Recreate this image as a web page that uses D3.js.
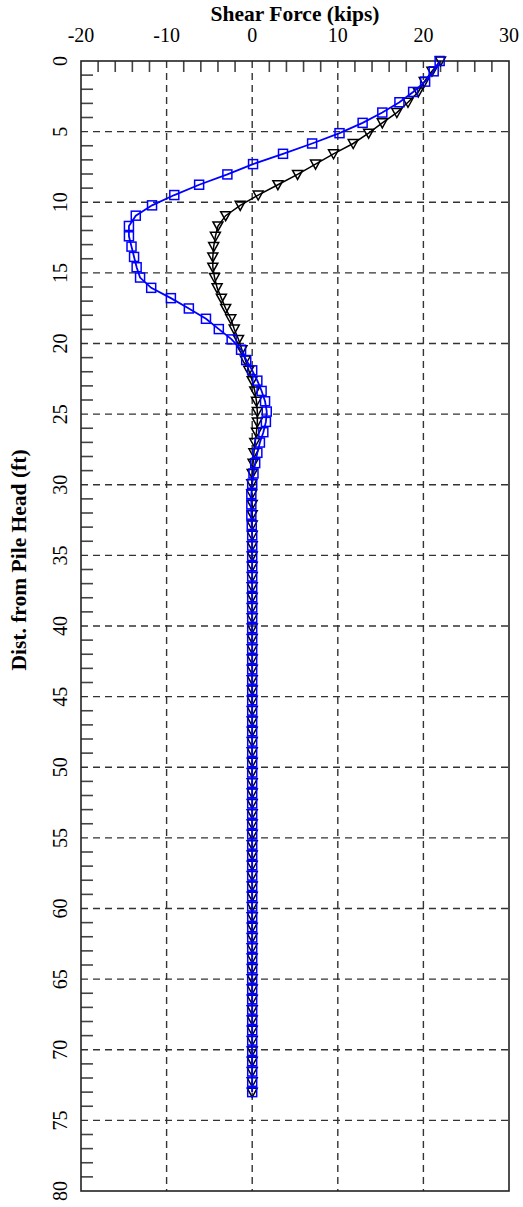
<!DOCTYPE html>
<html><head><meta charset="utf-8">
<script src="https://cdn.jsdelivr.net/npm/d3@7"></script>
<style>body{margin:0;background:#fff}svg{display:block}text{font-family:"Liberation Serif","Times New Roman",Times,serif}</style>
</head><body>
<svg id="c" width="523" height="1207"></svg>
<script>
const depths = [0,0.73,1.46,2.19,2.92,3.65,4.38,5.11,5.84,6.57,7.3,8.03,8.76,9.49,10.22,10.95,11.68,12.41,13.14,13.87,14.6,15.33,16.06,16.79,17.52,18.25,18.98,19.71,20.44,21.17,21.9,22.63,23.36,24.09,24.82,25.55,26.28,27.01,27.74,28.47,29.2,29.93,30.66,31.39,32.12,32.85,33.58,34.31,35.04,35.77,36.5,37.23,37.96,38.69,39.42,40.15,40.88,41.61,42.34,43.07,43.8,44.53,45.26,45.99,46.72,47.45,48.18,48.91,49.64,50.37,51.1,51.83,52.56,53.29,54.02,54.75,55.48,56.21,56.94,57.67,58.4,59.13,59.86,60.59,61.32,62.05,62.78,63.51,64.24,64.97,65.7,66.43,67.16,67.89,68.62,69.35,70.08,70.81,71.54,72.27,73.0];
const shearBlue = [21.9,21.2,20.2,18.8,17.2,15.2,12.9,10.2,7.0,3.6,
  0.1,-2.9,-6.2,-9.1,-11.7,-13.6,-14.4,-14.4,-14.1,-13.8,
  -13.5,-13.1,-11.8,-9.5,-7.4,-5.4,-3.9,-2.4,-1.3,-0.7,
  0.0,0.6,1.1,1.5,1.7,1.6,1.3,0.9,0.6,0.35,
  0.15,0.0,-0.1,-0.1,-0.1,-0.05,0,0,0,0,
  0,0,0,0,0,0,0,0,0,0,
  0,0,0,0,0,0,0,0,0,0,
  0,0,0,0,0,0,0,0,0,0,
  0,0,0,0,0,0,0,0,0,0,
  0,0,0,0,0,0,0,0,0,0,0];
const shearBlack = [22.0,21.0,20.1,19.4,18.2,16.9,15.2,13.6,11.8,9.5,
  7.4,5.3,3.0,0.7,-1.4,-3.1,-4.0,-4.3,-4.5,-4.6,
  -4.6,-4.4,-4.1,-3.6,-3.1,-2.5,-2.1,-1.6,-1.2,-0.8,
  -0.4,0.0,0.3,0.5,0.6,0.6,0.5,0.3,0.2,0.1,
  0.0,-0.05,-0.05,0,0,0,0,0,0,0,
  0,0,0,0,0,0,0,0,0,0,
  0,0,0,0,0,0,0,0,0,0,
  0,0,0,0,0,0,0,0,0,0,
  0,0,0,0,0,0,0,0,0,0,
  0,0,0,0,0,0,0,0,0,0,0];
const xTicks = [-20,-10,0,10,20,30];
const yTicks = [0,5,10,15,20,25,30,35,40,45,50,55,60,65,70,75,80];
const xTitle = "Shear Force (kips)";
const yTitle = "Dist. from Pile Head (ft)";

const svg = d3.select("#c");
const L=81,R=509,T=61,B=1191;
const x = d3.scaleLinear().domain([-20,30]).range([L,R]);
const y = d3.scaleLinear().domain([0,80]).range([T,B]);

// grid
const g = svg.append("g");
g.selectAll("line.gx").data(xTicks.slice(1,-1)).enter().append("line")
  .attr("x1",d=>x(d)).attr("x2",d=>x(d)).attr("y1",T).attr("y2",B)
  .attr("stroke","#333").attr("stroke-width",1.4).attr("stroke-dasharray","7,5");
g.selectAll("line.gy").data(yTicks.slice(1,-1)).enter().append("line")
  .attr("x1",L).attr("x2",R).attr("y1",d=>y(d)).attr("y2",d=>y(d))
  .attr("stroke","#333").attr("stroke-width",1.4).attr("stroke-dasharray","7,5");

// minor ticks
const xMinor = d3.range(-20,31,2).filter(v=>v%10!==0);
g.selectAll("line.mx").data(xMinor).enter().append("line")
  .attr("x1",d=>x(d)).attr("x2",d=>x(d)).attr("y1",T).attr("y2",T+11)
  .attr("stroke","#444").attr("stroke-width",1.6);
const yMinor = d3.range(0,81,1).filter(v=>v%5!==0);
g.selectAll("line.my").data(yMinor).enter().append("line")
  .attr("x1",L).attr("x2",L+12).attr("y1",d=>y(d)).attr("y2",d=>y(d))
  .attr("stroke","#444").attr("stroke-width",1.6);

// frame
svg.append("rect").attr("x",L).attr("y",T).attr("width",R-L).attr("height",B-T)
  .attr("fill","none").attr("stroke","#222").attr("stroke-width",1.6);

// tick labels
svg.selectAll("text.xt").data(xTicks).enter().append("text")
  .attr("x",d=>x(d)).attr("y",42).attr("text-anchor","middle")
  .attr("font-size",20).text(d=>d);
svg.selectAll("text.yt").data(yTicks).enter().append("text")
  .attr("transform",d=>`translate(67,${y(d)}) rotate(-90)`).attr("text-anchor","middle")
  .attr("font-size",20).text(d=>d);
svg.append("text").attr("x",(L+R)/2).attr("y",21).attr("text-anchor","middle")
  .attr("font-size",21.5).attr("font-weight","bold").text(xTitle);
svg.append("text").attr("transform","translate(26,560) rotate(-90)").attr("text-anchor","middle")
  .attr("font-size",21.5).attr("font-weight","bold").text(yTitle);

// series
const line = d3.line().x(d=>x(d[1])).y(d=>y(d[0]));
const blackPts = depths.map((d,i)=>[d,shearBlack[i]]);
const bluePts = depths.map((d,i)=>[d,shearBlue[i]]);

svg.append("path").datum(blackPts).attr("d",line).attr("fill","none").attr("stroke","#000").attr("stroke-width",1.5);
svg.selectAll("path.tri").data(blackPts).enter().append("path")
  .attr("d","M-5,-4L5,-4L0,5Z").attr("transform",d=>`translate(${x(d[1])},${y(d[0])})`)
  .attr("fill","none").attr("stroke","#000").attr("stroke-width",1.5);

svg.append("path").datum(bluePts).attr("d",line).attr("fill","none").attr("stroke","#0000ff").attr("stroke-width",1.8);
svg.selectAll("rect.sq").data(bluePts).enter().append("rect")
  .attr("x",d=>x(d[1])-4.5).attr("y",d=>y(d[0])-4.5).attr("width",9).attr("height",9)
  .attr("fill","none").attr("stroke","#0000ff").attr("stroke-width",1.5);
</script>
</body></html>
